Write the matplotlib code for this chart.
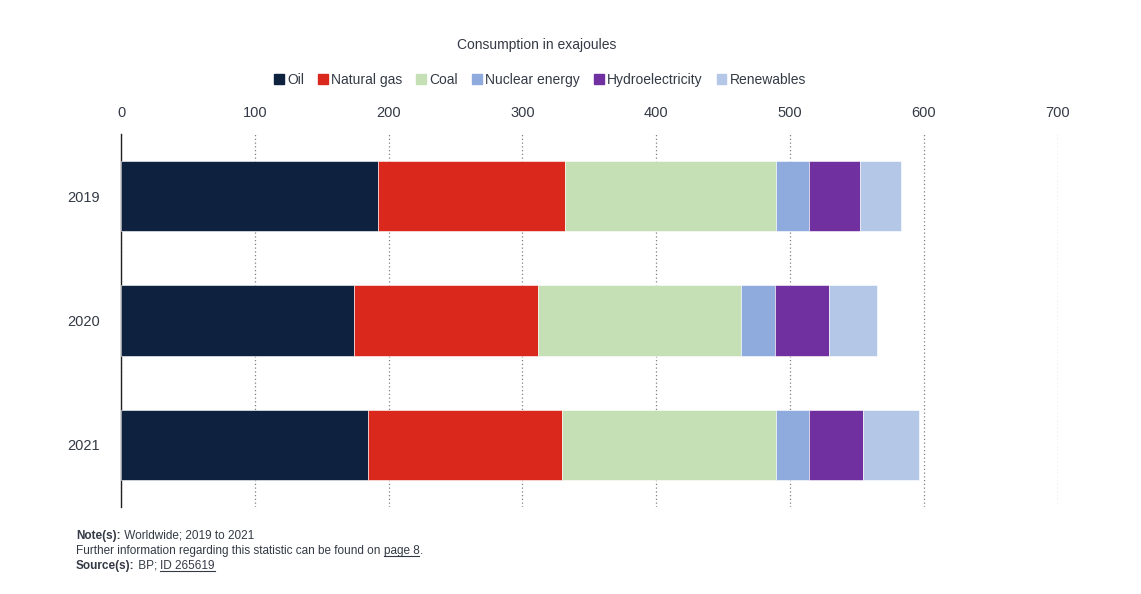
import matplotlib
matplotlib.use("Agg")
import matplotlib.pyplot as plt
from matplotlib import font_manager
from matplotlib.lines import Line2D

years = ["2019", "2020", "2021"]
sources = ["Oil", "Natural gas", "Coal", "Nuclear energy", "Hydroelectricity", "Renewables"]
oil = [191.8, 174.1, 184.3]
natural_gas = [140.0, 137.8, 145.5]
coal = [157.5, 151.4, 159.7]
nuclear = [25.1, 25.2, 24.9]
hydro = [38.1, 40.3, 40.3]
renewables = [30.2, 36.2, 41.6]
colors = ["#0e2240", "#da291c", "#c5e0b4", "#8faadc", "#7030a0", "#b4c7e7"]
xticks = [0, 100, 200, 300, 400, 500, 600, 700]

names = {f.name for f in font_manager.fontManager.ttflist}
fam = "Liberation Sans Narrow" if "Liberation Sans Narrow" in names else "Liberation Sans"
plt.rcParams["font.family"] = [fam, "DejaVu Sans"]
txt = "#333a45"

W, H = 1141, 594
fig = plt.figure(figsize=(W / 100, H / 100), dpi=100)
ax = fig.add_axes([121 / W, 1 - 507 / H, (1057.7 - 121) / W, (507 - 134) / H])

series = [oil, natural_gas, coal, nuclear, hydro, renewables]
left = [0.0] * len(years)
ypos = list(range(len(years)))
for vals, c, name in zip(series, colors, sources):
    ax.barh(ypos, vals, left=left, height=0.565, color=c, edgecolor="white",
            linewidth=0.4, label=name, zorder=3)
    left = [l + v for l, v in zip(left, vals)]

ax.set_xlim(0, 700)
ax.set_ylim(2.5, -0.5)
ax.set_xticks(xticks)
ax.xaxis.tick_top()
ax.tick_params(axis="x", length=0, pad=10, labelsize=10.5, colors=txt)
ax.set_yticks(ypos)
ax.set_yticklabels(years)
ax.tick_params(axis="y", length=0, pad=15, labelsize=10.5, colors=txt)
for s in ["top", "right", "bottom"]:
    ax.spines[s].set_visible(False)
ax.spines["left"].set_color("#222222")
ax.spines["left"].set_linewidth(1.0)
ax.grid(axis="x", linestyle=(0, (1, 2)), color="#808080", linewidth=0.9, zorder=0)
ax.set_axisbelow(True)

fig.text(537 / W, 1 - 45 / H, "Consumption in exajoules", ha="center", va="center",
         fontsize=10, color=txt)
handles = [plt.Rectangle((0, 0), 1, 1, color=c) for c in colors]
fig.legend(handles, sources, loc="center", bbox_to_anchor=(540 / W, 1 - 80 / H), ncol=6,
           frameon=False, fontsize=10, handlelength=0.7, handleheight=0.7,
           handletextpad=0.25, columnspacing=1.0, labelcolor=txt)

fig.canvas.draw()
r = fig.canvas.get_renderer()

def seg(x, y, s, bold=False, underline=False):
    t = fig.text(x / W, 1 - y / H, s, fontsize=8.5, color=txt, va="baseline",
                 fontweight="bold" if bold else "normal")
    bb = t.get_window_extent(r)
    if underline:
        fig.add_artist(Line2D([bb.x0 / W, bb.x1 / W], [(H - y - 2) / H, (H - y - 2) / H],
                              color=txt, linewidth=0.8))
    return bb.x1

x = seg(76, 539, "Note(s):", bold=True)
x = seg(x, 539, " Worldwide; 2019 to 2021")
x = seg(76, 554, "Further information regarding this statistic can be found on ")
x = seg(x, 554, "page 8", underline=True)
seg(x, 554, ".")
x = seg(76, 569, "Source(s):", bold=True)
x = seg(x, 569, " BP; ")
seg(x, 569, "ID 265619", underline=True)

fig.savefig("out.png", dpi=100)
